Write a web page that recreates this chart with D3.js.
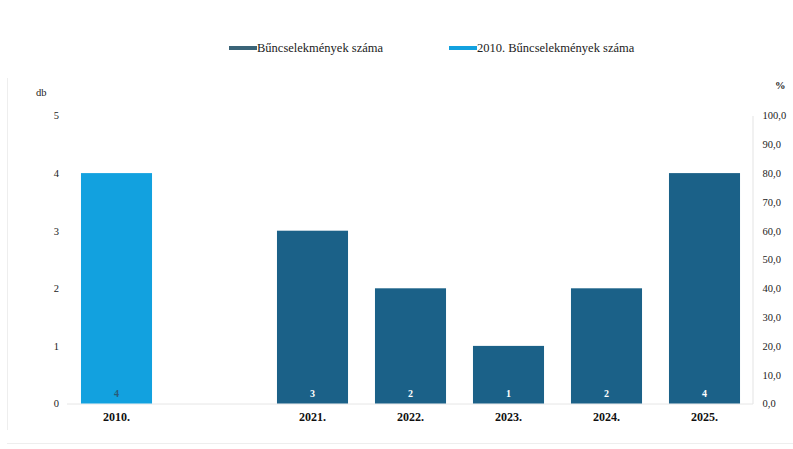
<!DOCTYPE html>
<html>
<head>
<meta charset="utf-8">
<script src="https://cdn.jsdelivr.net/npm/d3@7"></script>
<style>
  html, body { margin: 0; padding: 0; background: #fff; }
  svg { display: block; }
</style>
</head>
<body>
<svg id="chart" width="793" height="449"></svg>
<script>
const categories = ["2010.", "", "2021.", "2022.", "2023.", "2024.", "2025."];
const values = [4, null, 3, 2, 1, 2, 4];
const seriesOf = ["2010", null, "main", "main", "main", "main", "main"];
const seriesNames = ["Bűncselekmények száma", "2010. Bűncselekmények száma"];
const leftTicks = [0, 1, 2, 3, 4, 5];
const rightTicks = [0, 10, 20, 30, 40, 50, 60, 70, 80, 90, 100];

const colDark = "#1b6188";
const colLight = "#12a1df";
const legendDark = "#3a6478";

const svg = d3.select("#chart");
const font = "'Liberation Serif', 'Times New Roman', serif";

const x = d3.scaleBand().domain(categories.map((c, i) => i)).range([67.5, 753.5]).paddingInner(0.275).paddingOuter(0.1375);
const y = d3.scaleLinear().domain([0, 5]).range([403.5, 115.5]);
const yR = d3.scaleLinear().domain([0, 100]).range([403.5, 115.5]);

// frame lines
svg.append("line").attr("x1", 7.5).attr("x2", 7.5).attr("y1", 78).attr("y2", 430).attr("stroke", "#eeeeee");
svg.append("line").attr("x1", 7).attr("x2", 793).attr("y1", 443.5).attr("y2", 443.5).attr("stroke", "#eeeeee");

// baseline
svg.append("line").attr("x1", 67).attr("x2", 753).attr("y1", y(0) + 0.5).attr("y2", y(0) + 0.5).attr("stroke", "#e6e6e6");

// right axis
const rAxis = d3.axisRight(yR).tickValues(rightTicks).tickSize(0).tickPadding(10)
  .tickFormat(d => d3.format(".1f")(d).replace(".", ","));
const gR = svg.append("g").attr("transform", "translate(752.5,0)").call(rAxis);
gR.select(".domain").attr("stroke", "#e3e3e3");
gR.selectAll("text").attr("font-family", font).attr("font-size", 10.5).attr("fill", "#222");

// left axis
const lAxis = d3.axisLeft(y).tickValues(leftTicks).tickSize(0).tickPadding(0).tickFormat(d3.format("d"));
const gL = svg.append("g").attr("transform", "translate(59,0)").call(lAxis);
gL.select(".domain").remove();
gL.selectAll("text").attr("font-family", font).attr("font-size", 10.5).attr("fill", "#222");

// axis unit labels
svg.append("text").attr("x", 36).attr("y", 96).attr("font-family", font).attr("font-size", 10.5).attr("fill", "#222").text("db");
svg.append("text").attr("x", 775).attr("y", 89).attr("font-family", font).attr("font-size", 10.5).attr("font-weight", "bold").attr("fill", "#222").text("%");

// bars
const data = categories.map((c, i) => ({ i, c, v: values[i], s: seriesOf[i] })).filter(d => d.v != null);
svg.selectAll("rect.bar").data(data).join("rect")
  .attr("class", "bar")
  .attr("x", d => x(d.i))
  .attr("width", x.bandwidth())
  .attr("y", d => y(d.v))
  .attr("height", d => y(0) - y(d.v))
  .attr("fill", d => d.s === "2010" ? colLight : colDark);

// value labels
svg.selectAll("text.val").data(data).join("text")
  .attr("class", "val")
  .attr("x", d => x(d.i) + x.bandwidth() / 2)
  .attr("y", y(0) - 7)
  .attr("text-anchor", "middle")
  .attr("font-family", font)
  .attr("font-size", 10)
  .attr("font-weight", "bold")
  .attr("fill", d => d.s === "2010" ? "#2a5a78" : "#ffffff")
  .text(d => d.v);

// category labels
svg.selectAll("text.cat").data(data).join("text")
  .attr("class", "cat")
  .attr("x", d => x(d.i) + x.bandwidth() / 2)
  .attr("y", 421)
  .attr("text-anchor", "middle")
  .attr("font-family", font)
  .attr("font-size", 12)
  .attr("font-weight", "bold")
  .attr("fill", "#111")
  .text(d => d.c);

// legend
const legend = [
  { name: seriesNames[0], color: legendDark, x: 229 },
  { name: seriesNames[1], color: colLight, x: 449 }
];
const lg = svg.selectAll("g.leg").data(legend).join("g").attr("class", "leg")
  .attr("transform", d => `translate(${d.x},0)`);
lg.append("rect").attr("x", 0).attr("y", 46).attr("width", 28).attr("height", 4).attr("fill", d => d.color);
lg.append("text").attr("x", 28).attr("y", 52).attr("font-family", font).attr("font-size", 12.5).attr("fill", "#222").text(d => d.name);
</script>
</body>
</html>
